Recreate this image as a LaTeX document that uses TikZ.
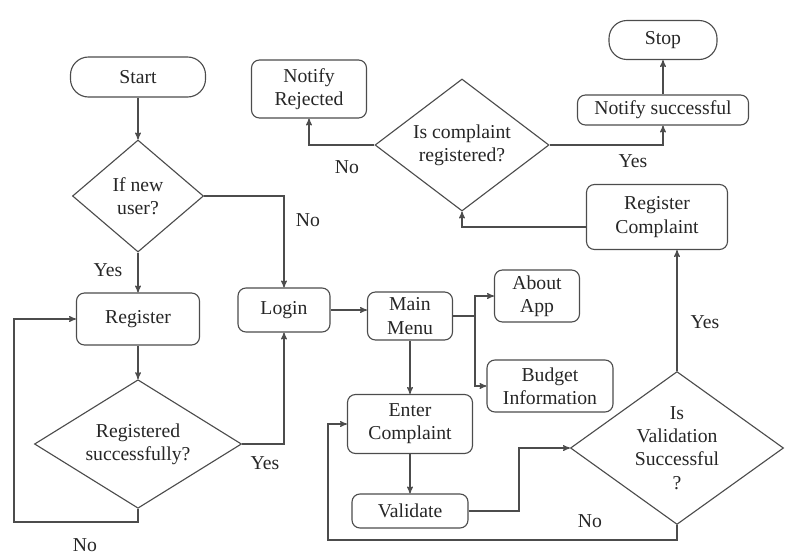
\documentclass[tikz,border=0pt]{standalone}
\usepackage{fontspec}
\setmainfont{Liberation Serif}
\newfontfamily\diagfont{Liberation Serif}
\usetikzlibrary{arrows,shapes.geometric,positioning}

\begin{document}
\begin{tikzpicture}[x=0.025cm, y=-0.025cm, ->, >=stealth', line width=0.8pt, draw=black!70,
    font=\diagfont\fontsize{14}{16.5}\selectfont]
	\tikzstyle{box}=[rectangle, rounded corners=0.2cm, draw=black!70, text=black!85, align=center, inner sep=2pt]
	\tikzstyle{term}=[box, rounded corners=0.45cm]
	\tikzstyle{decision}=[diamond, draw=black!70, text=black!85, align=center, inner sep=0pt, aspect=1.2]
	\tikzstyle{lbl}=[text=black!85, inner sep=1pt]
	\useasboundingbox (0,0) rectangle (803,555);

	% left column
	\node[term, minimum width=3.375cm, minimum height=1cm] (start) at (138,77) {Start};
	\node[decision, minimum width=3.275cm, minimum height=2.8cm] (newuser) at (138,196) {If new\\user?};
	\node[box, minimum width=3.075cm, minimum height=1.3cm] (reg) at (138,319) {Register};
	\node[decision, minimum width=5.175cm, minimum height=2.8cm] (regok) at (138,444) {Registered\\successfully?};
	\node[box, minimum width=2.3cm, minimum height=1.1cm] (login) at (284,310) {Login};

	% menu part
	\node[box, minimum width=2.125cm, minimum height=1.2cm] (menu) at (410,316) {Main\\Menu};
	\node[box, minimum width=2.125cm, minimum height=1.3cm] (about) at (537,296) {About\\App};
	\node[box, minimum width=3.15cm, minimum height=1.3cm] (budget) at (550,386) {Budget\\Information};
	\node[box, minimum width=3.125cm, minimum height=1.475cm] (enter) at (410,424) {Enter\\Complaint};
	\node[box, minimum width=2.9cm, minimum height=0.85cm] (valid) at (410,511) {Validate};
	\node[decision, minimum width=5.325cm, minimum height=3.75cm] (validok) at (677,448) {Is\\Validation\\Successful\\?};

	% top part
	\node[box, minimum width=3.525cm, minimum height=1.625cm] (regc) at (657,217) {Register\\Complaint};
	\node[decision, minimum width=4.35cm, minimum height=3.3cm] (compok) at (462,145) {Is complaint\\registered?};
	\node[box, minimum width=2.875cm, minimum height=1.45cm] (notrej) at (309,89) {Notify\\Rejected};
	\node[box, minimum width=4.275cm, minimum height=0.75cm] (notsucc) at (663,110) {Notify successful};
	\node[term, minimum width=2.7cm, minimum height=0.975cm] (stop) at (663,40) {Stop};

	\coordinate (regloop) at (14,522);
	\coordinate (menusplit) at (475,316);
	\coordinate (validsplit) at (519,511);
	\coordinate (enterloop) at (328,540);

	% labels
	\node[lbl] (yes1) at (108,270) {Yes};
	\node[lbl] (no1) at (308,220) {No};
	\node[lbl] (yes2) at (265,463) {Yes};
	\node[lbl] (no2) at (85,545) {No};
	\node[lbl] (no3) at (590,521) {No};
	\node[lbl] (yes3) at (705,322) {Yes};
	\node[lbl] (no4) at (347,167) {No};
	\node[lbl] (yes4) at (633,161) {Yes};

	\path
	(start) edge (newuser)
	(newuser) edge (reg)
	(reg) edge (regok)
	(menu) edge (enter)
	(enter) edge (valid)
	(notsucc) edge (stop);

	\draw (login.east) -- (login.east -| menu.west);
	\draw (newuser.east) -| (login.north);
	\draw (regok.east) -| (login.south);
	\draw (regok.south) |- (regloop) |- (reg.west);
	\draw[-] (menu.east) -- (menusplit);
	\draw (menusplit) |- (about.west);
	\draw (menusplit) |- (budget.west);
	\draw (valid.east) -- (validsplit) |- (validok.west);
	\draw (validok.south) |- (enterloop) |- (enter.west);
	\draw (validok.north) -- (validok.north |- regc.south);
	\draw (regc.188) -| (compok.south);
	\draw (compok.west) -| (notrej.south);
	\draw (compok.east) -| (notsucc.south);
\end{tikzpicture}
\end{document}
